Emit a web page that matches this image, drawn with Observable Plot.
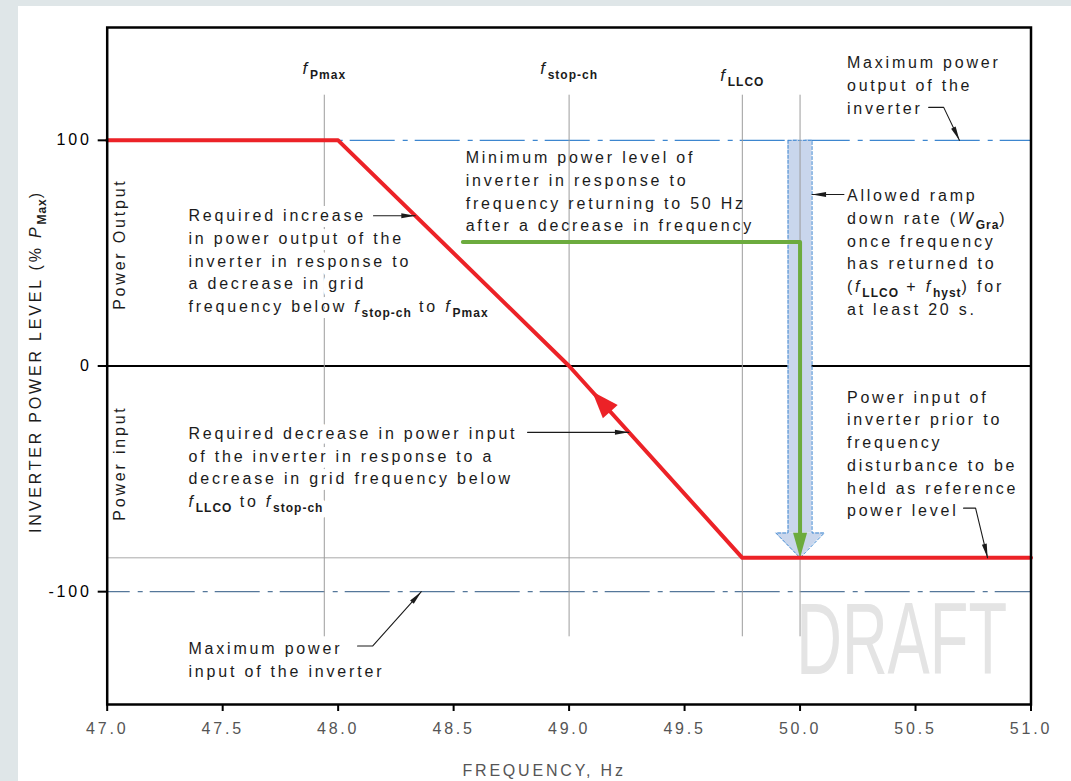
<!DOCTYPE html>
<html>
<head>
<meta charset="utf-8">
<script src="https://cdn.jsdelivr.net/npm/d3@7"></script>
<script src="https://cdn.jsdelivr.net/npm/@observablehq/plot@0.6"></script>
<style>
  html, body { margin: 0; padding: 0; width: 1071px; height: 781px; overflow: hidden; background: #dfe6e8; }
  #panel { position: absolute; left: 18px; top: 6px; width: 1053px; height: 775px; background: #fff; }
</style>
</head>
<body>
<div id="panel"></div>
<script>
// ---- axes ----
const xDomain = [47, 51];
const yDomain = [-150, 150];
const xTicks = [47, 47.5, 48, 48.5, 49, 49.5, 50, 50.5, 51];
const yTicks = [-100, 0, 100];

// ---- inverter response (frequency in Hz, power level in % Pmax) ----
const responseHz = [47, 48, 49, 49.75, 51];
const responseLevel = [100, 100, 0, -85, -85];

const maxOutputLevel = 100;
const maxInputLevel = -100;
const referenceLevel = -85;

// ---- characteristic frequencies ----
const markerNames = ["*f*_{Pmax}", "*f*_{stop-ch}", "*f*_{LLCO}"];
const markerHz = [47.94, 49, 49.75];
const markerLabelLevel = [129.5, 129.5, 126.5];
const guideHz = [...markerHz, 50];
const guideSpan = [-120, 120];

// ---- minimum level when frequency returns to 50 Hz ----
const recoveryHz = [48.54, 50, 50];
const recoveryLevel = [55, 55, -85];

// ---- allowed ramp-down band ----
const ramp = {hz: 50, top: 100, tip: -85, headBase: -74, shaftHalf: 0.052, headHalf: 0.105};

// ---- text annotations (anchor = top-left of block) ----
const notes = [
  {hz: 50.203, level: 139.1, halo: false, text: "Maximum power\noutput of the\ninverter"},
  {hz: 50.203, level: 80.2, halo: false, text: "Allowed ramp\ndown rate (*W*_{Gra})\nonce frequency\nhas returned to\n(*f*_{LLCO} + *f*_{hyst}) for\nat least 20 s."},
  {hz: 48.552, level: 97.0, halo: false, text: "Minimum power level of\ninverter in response to\nfrequency returning to 50 Hz\nafter a decrease in frequency"},
  {hz: 47.352, level: 71.3, halo: true, text: "Required increase\nin power output of the\ninverter in response to\na decrease in grid\nfrequency below *f*_{stop-ch} to *f*_{Pmax}"},
  {hz: 47.352, level: -25.2, halo: true, text: "Required decrease in power input\nof the inverter in response to a\ndecrease in grid frequency below\n*f*_{LLCO} to *f*_{stop-ch}"},
  {hz: 50.203, level: -9.1, halo: false, text: "Power input of\ninverter prior to\nfrequency\ndisturbance to be\nheld as reference\npower level"},
  {hz: 47.352, level: -120.4, halo: false, text: "Maximum power\ninput of the inverter"}
];

// leader lines from notes to the curve (last point is the arrow tip)
const leaders = [
  [[50.557, 114.6], [50.622, 114.6], [50.69, 100]],
  [[50.19, 76], [50.052, 76]],
  [[48.153, 66.6], [48.334, 66.6]],
  [[48.82, -29.4], [49.259, -29.4]],
  [[50.708, -63], [50.76, -63], [50.812, -85]],
  [[48.084, -124.1], [48.149, -124.1], [48.36, -100]]
];

const regionNames = ["Power Output", "Power input"];
const regionLevel = [54, -43];
const regionHz = 47.054;

const watermark = {text: "DRAFT", hz: 50.44, level: -122};
const directionHz = 49.1; // where the direction arrow sits on the curve

// ---- layout ----
const W = 1053, H = 775;
const M = {left: 88.7, right: 40.5, top: 21, bottom: 77};

const xScale = Plot.scale({x: {domain: xDomain, range: [M.left, W - M.right]}});
const yScale = Plot.scale({y: {domain: yDomain, range: [H - M.bottom, M.top]}});
const angleOf = (from, to) => {
  const dx = xScale.apply(to[0]) - xScale.apply(from[0]);
  const dy = yScale.apply(to[1]) - yScale.apply(from[1]);
  return Math.atan2(dy, dx) * 180 / Math.PI + 90;
};
// filled arrowhead with its tip at the origin, pointing up
const arrowHead = (len, wid) => ({
  draw(ctx) { ctx.moveTo(0, 0); ctx.lineTo(wid / 2, len); ctx.lineTo(-wid / 2, len); ctx.closePath(); }
});

const response = responseHz.map((hz, i) => ({hz, level: responseLevel[i]}));
const recovery = recoveryHz.map((hz, i) => ({hz, level: recoveryLevel[i]}));
const markers = markerNames.map((name, i) => ({name, hz: markerHz[i], level: markerLabelLevel[i]}));
const regions = regionNames.map((name, i) => ({name, hz: regionHz, level: regionLevel[i]}));

const curveAt = d3.scaleLinear(responseHz, responseLevel);
const dirTip = [directionHz, curveAt(directionHz)];
const dirHead = [{hz: dirTip[0], level: dirTip[1], a: angleOf([responseHz[3], responseLevel[3]], dirTip)}];

const recTip = [recoveryHz[2], recoveryLevel[2]];
const recHead = [{hz: recTip[0], level: recTip[1], a: angleOf([recoveryHz[1], recoveryLevel[1]], recTip)}];
const recoveryShaft = recovery.map((d, i) => i === 2
  ? {hz: d.hz, level: yScale.invert(yScale.apply(d.level) - 14)} : d);

const leaderPts = leaders.flatMap((pts, i) => pts.map(([hz, level]) => ({hz, level, i})));
const leaderHeads = leaders.map(pts => {
  const tip = pts[pts.length - 1];
  return {hz: tip[0], level: tip[1], a: angleOf(pts[pts.length - 2], tip)};
});

const rampOutline = [
  [ramp.hz - ramp.shaftHalf, ramp.top], [ramp.hz - ramp.shaftHalf, ramp.headBase],
  [ramp.hz - ramp.headHalf, ramp.headBase], [ramp.hz, ramp.tip],
  [ramp.hz + ramp.headHalf, ramp.headBase], [ramp.hz + ramp.shaftHalf, ramp.headBase],
  [ramp.hz + ramp.shaftHalf, ramp.top], [ramp.hz - ramp.shaftHalf, ramp.top]
].map(([hz, level]) => ({hz, level}));
const rampHead = [
  {hz: ramp.hz - ramp.headHalf, level: ramp.headBase},
  {hz: ramp.hz, level: ramp.tip},
  {hz: ramp.hz + ramp.headHalf, level: ramp.headBase}
];

const RED = "#ec2227", GREEN = "#6cab3e", INK = "#1b1b1b";
const textBlock = {x: "hz", y: "level", text: "text", textAnchor: "start", lineAnchor: "top", lineHeight: 1.42};

const plot = Plot.plot({
  width: W, height: H,
  marginLeft: M.left, marginRight: M.right, marginTop: M.top, marginBottom: M.bottom,
  x: {domain: xDomain},
  y: {domain: yDomain},
  style: {
    fontFamily: "'Liberation Sans', Arial, Helvetica, sans-serif",
    fontSize: "16px", letterSpacing: "2.8px", color: INK, background: "white", overflow: "visible"
  },
  marks: [
    Plot.text([watermark], {x: "hz", y: "level", text: "text", fontSize: 102, fill: "#e4e4e4", textAnchor: "middle", lineAnchor: "middle"}),
    Plot.ruleY([referenceLevel], {stroke: "#a9a9a9", strokeWidth: 1}),
    Plot.ruleY([maxOutputLevel], {stroke: "#3d86cf", strokeWidth: 1.3, strokeDasharray: "45,8,5,7", strokeDashoffset: 17}),
    Plot.ruleY([maxInputLevel], {stroke: "#55779a", strokeWidth: 1.3, strokeDasharray: "45,8,5,7", strokeDashoffset: 22}),
    Plot.ruleY([0], {stroke: "black", strokeWidth: 2}),

    // allowed ramp-down band
    Plot.rect([ramp], {x1: d => d.hz - d.shaftHalf, x2: d => d.hz + d.shaftHalf, y1: "headBase", y2: "top", fill: "#c9d6ec"}),
    Plot.areaY(rampHead, {x: "hz", y1: ramp.headBase, y2: "level", fill: "#c9d6ec"}),
    Plot.line(rampOutline, {x: "hz", y: "level", stroke: "#3f88d2", strokeWidth: 1, strokeDasharray: "3,2"}),

    Plot.ruleX(guideHz, {y1: guideSpan[0], y2: guideSpan[1], stroke: "#9c9c9c", strokeWidth: 1}),

    // annotation text (left blocks sit on a white halo)
    Plot.text(notes.filter(d => d.halo), {...textBlock, fill: "white", stroke: "white", strokeWidth: 12, strokeLinejoin: "round"}),
    Plot.text(notes, {...textBlock, fill: INK}),

    // minimum power level on return to 50 Hz
    Plot.line(recoveryShaft, {x: "hz", y: "level", stroke: GREEN, strokeWidth: 4}),
    Plot.dot(recHead, {x: "hz", y: "level", rotate: "a", symbol: arrowHead(25, 14), fill: GREEN, stroke: "none"}),

    // response curve
    Plot.line(response, {x: "hz", y: "level", stroke: RED, strokeWidth: 4}),
    Plot.dot(dirHead, {x: "hz", y: "level", rotate: "a", symbol: arrowHead(27, 20), fill: RED, stroke: "none"}),

    // leaders
    Plot.line(leaderPts, {x: "hz", y: "level", z: "i", stroke: INK, strokeWidth: 1.1}),
    Plot.dot(leaderHeads, {x: "hz", y: "level", rotate: "a", symbol: arrowHead(14, 5), fill: INK, stroke: "none"}),

    // frequency markers and region labels
    Plot.text(markers, {x: "hz", y: "level", text: "name", fontSize: 17, textAnchor: "middle", lineAnchor: "bottom", fill: INK}),
    Plot.text(regions, {x: "hz", y: "level", text: "name", rotate: -90, textAnchor: "middle", lineAnchor: "middle", fill: INK}),

    Plot.frame({stroke: "black", strokeWidth: 2.5}),
    Plot.axisY(yTicks, {tickSize: 9, tickPadding: 6.5, strokeWidth: 2, stroke: "black", fill: "black", tickFormat: d => String(d), label: null}),
    Plot.axisX(xTicks, {tickSize: 7, tickPadding: 11, strokeWidth: 2, stroke: "black", fill: "#555", tickFormat: d3.format(".1f"), label: null}),
    Plot.text(["FREQUENCY, Hz"], {frameAnchor: "bottom", dx: -25, dy: 71, textAnchor: "middle", lineAnchor: "bottom", fill: "#555"}),
    Plot.text(["INVERTER POWER LEVEL (% *P*_{Max})"], {frameAnchor: "left", rotate: -90, dx: -71.7, dy: -4.5, textAnchor: "middle", lineAnchor: "middle", fill: INK})
  ]
});

// italic symbols (*f*) and bold subscripts (_{...}) inside text
const SVGNS = "http://www.w3.org/2000/svg";
plot.querySelectorAll("text").forEach(text => {
  const spans = text.querySelectorAll("tspan");
  const lines = spans.length ? [...spans] : [text];
  for (const el of lines) {
    const s = el.textContent;
    if (!/\*|_\{/.test(s)) continue;
    el.textContent = "";
    let lowered = false;
    for (const part of s.split(/(\*[^*]+\*|_\{[^}]+\})/).filter(p => p)) {
      const t = document.createElementNS(SVGNS, "tspan");
      const sub = part.startsWith("_{");
      if (part.startsWith("*")) {
        t.textContent = part.slice(1, -1);
        t.setAttribute("font-style", "italic");
      } else if (sub) {
        t.textContent = part.slice(2, -1);
        t.setAttribute("font-size", 12);
        t.setAttribute("font-weight", "bold");
        t.setAttribute("letter-spacing", 1);
      } else {
        t.textContent = part;
      }
      if (sub && !lowered) { t.setAttribute("dy", 5); lowered = true; }
      else if (!sub && lowered) { t.setAttribute("dy", -5); lowered = false; }
      el.appendChild(t);
    }
  }
});

// condensed watermark lettering
plot.querySelectorAll("text").forEach(text => {
  if (text.textContent === watermark.text) {
    text.setAttribute("letter-spacing", 0);
    text.setAttribute("transform", `${text.getAttribute("transform") || ""} scale(0.62,1)`);
  }
});

document.getElementById("panel").appendChild(plot);
</script>
</body>
</html>
